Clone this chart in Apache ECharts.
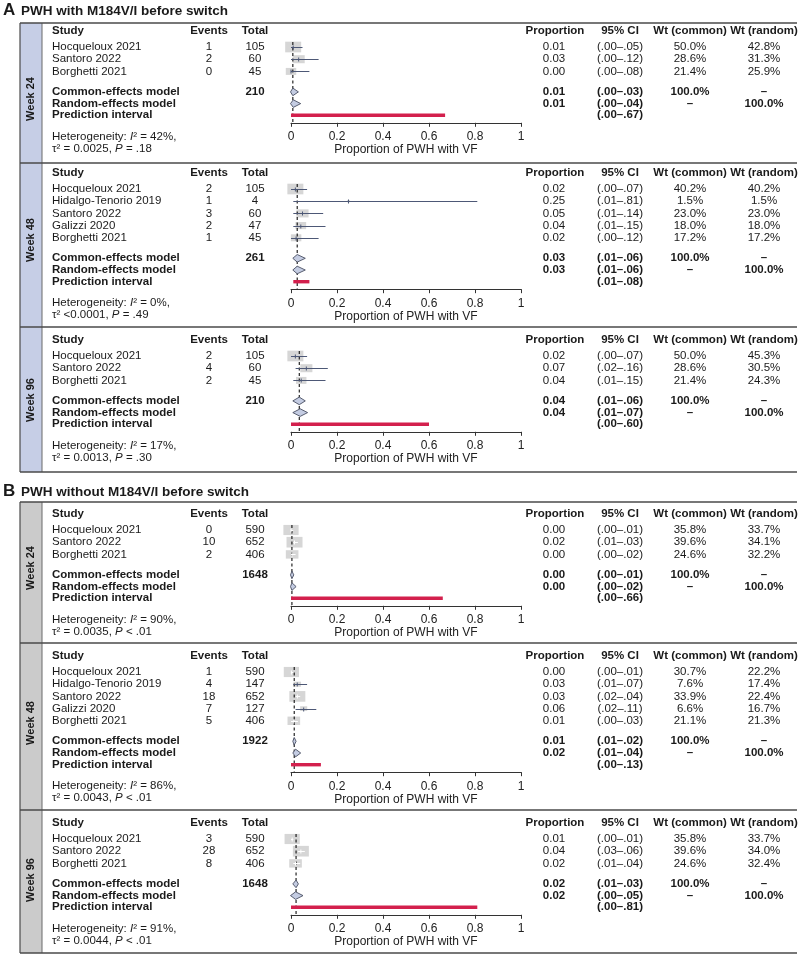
<!DOCTYPE html>
<html><head><meta charset="utf-8">
<script src="https://cdn.jsdelivr.net/npm/echarts@6/dist/echarts.min.js"></script>
<style>html,body{margin:0;padding:0;background:#fff}#c{width:800px;height:954px}</style>
</head><body><div id="c"></div>
<script>
// ---------- DATA ----------
// Panel A – Week 24
const aW24Study = ['Hocqueloux 2021', 'Santoro 2022', 'Borghetti 2021'];
const aW24Events = [1, 2, 0];
const aW24Total = [105, 60, 45];
const aW24Prop = [0.0095, 0.0333, 0.0];
const aW24Lo = [0.00, 0.00, 0.00];
const aW24Hi = [0.05, 0.12, 0.08];
const aW24WtCommon = [50.0, 28.6, 21.4];
const aW24WtRandom = [42.8, 31.3, 25.9];
const aW24Common = [0.008, 0.00, 0.03];
const aW24Random = [0.01, 0.00, 0.04];
const aW24Pred = [0.00, 0.67];
const aW24N = 210;
const aW24Het = ['42%', '= 0.0025', '= .18'];

// Panel A – Week 48
const aW48Study = ['Hocqueloux 2021', 'Hidalgo-Tenorio 2019', 'Santoro 2022', 'Galizzi 2020', 'Borghetti 2021'];
const aW48Events = [2, 1, 3, 2, 1];
const aW48Total = [105, 4, 60, 47, 45];
const aW48Prop = [0.019, 0.25, 0.05, 0.0426, 0.0222];
const aW48Lo = [0.00, 0.01, 0.01, 0.01, 0.00];
const aW48Hi = [0.07, 0.81, 0.14, 0.15, 0.12];
const aW48WtCommon = [40.2, 1.5, 23.0, 18.0, 17.2];
const aW48WtRandom = [40.2, 1.5, 23.0, 18.0, 17.2];
const aW48Common = [0.027, 0.01, 0.06];
const aW48Random = [0.027, 0.01, 0.06];
const aW48Pred = [0.01, 0.08];
const aW48N = 261;
const aW48Het = ['0%', '<0.0001', '= .49'];

// Panel A – Week 96
const aW96Study = ['Hocqueloux 2021', 'Santoro 2022', 'Borghetti 2021'];
const aW96Events = [2, 4, 2];
const aW96Total = [105, 60, 45];
const aW96Prop = [0.019, 0.0667, 0.0444];
const aW96Lo = [0.00, 0.02, 0.01];
const aW96Hi = [0.07, 0.16, 0.15];
const aW96WtCommon = [50.0, 28.6, 21.4];
const aW96WtRandom = [45.3, 30.5, 24.3];
const aW96Common = [0.036, 0.01, 0.06];
const aW96Random = [0.04, 0.01, 0.07];
const aW96Pred = [0.00, 0.60];
const aW96N = 210;
const aW96Het = ['17%', '= 0.0013', '= .30'];

// Panel B – Week 24
const bW24Study = ['Hocqueloux 2021', 'Santoro 2022', 'Borghetti 2021'];
const bW24Events = [0, 10, 2];
const bW24Total = [590, 652, 406];
const bW24Prop = [0.0, 0.0153, 0.0049];
const bW24Lo = [0.00, 0.01, 0.00];
const bW24Hi = [0.01, 0.03, 0.02];
const bW24WtCommon = [35.8, 39.6, 24.6];
const bW24WtRandom = [33.7, 34.1, 32.2];
const bW24Common = [0.004, 0.00, 0.01];
const bW24Random = [0.004, 0.00, 0.02];
const bW24Pred = [0.00, 0.66];
const bW24N = 1648;
const bW24Het = ['90%', '= 0.0035', '< .01'];

// Panel B – Week 48
const bW48Study = ['Hocqueloux 2021', 'Hidalgo-Tenorio 2019', 'Santoro 2022', 'Galizzi 2020', 'Borghetti 2021'];
const bW48Events = [1, 4, 18, 7, 5];
const bW48Total = [590, 147, 652, 127, 406];
const bW48Prop = [0.0017, 0.0272, 0.0276, 0.0551, 0.0123];
const bW48Lo = [0.00, 0.01, 0.02, 0.02, 0.00];
const bW48Hi = [0.01, 0.07, 0.04, 0.11, 0.03];
const bW48WtCommon = [30.7, 7.6, 33.9, 6.6, 21.1];
const bW48WtRandom = [22.2, 17.4, 22.4, 16.7, 21.3];
const bW48Common = [0.014, 0.01, 0.02];
const bW48Random = [0.02, 0.01, 0.04];
const bW48Pred = [0.00, 0.13];
const bW48N = 1922;
const bW48Het = ['86%', '= 0.0043', '< .01'];

// Panel B – Week 96
const bW96Study = ['Hocqueloux 2021', 'Santoro 2022', 'Borghetti 2021'];
const bW96Events = [3, 28, 8];
const bW96Total = [590, 652, 406];
const bW96Prop = [0.0051, 0.0429, 0.0197];
const bW96Lo = [0.00, 0.03, 0.01];
const bW96Hi = [0.01, 0.06, 0.04];
const bW96WtCommon = [35.8, 39.6, 24.6];
const bW96WtRandom = [33.7, 34.0, 32.4];
const bW96Common = [0.022, 0.01, 0.03];
const bW96Random = [0.02, 0.00, 0.05];
const bW96Pred = [0.00, 0.81];
const bW96N = 1648;
const bW96Het = ['91%', '= 0.0044', '< .01'];

const axisTicks = [0, 0.2, 0.4, 0.6, 0.8, 1];
const panelTitles = ['PWH with M184V/I before switch', 'PWH without M184V/I before switch'];
const panelLetters = ['A', 'B'];
const weekLabels = ['Week 24', 'Week 48', 'Week 96'];
const headers = ['Study', 'Events', 'Total', 'Proportion', '95% CI', 'Wt (common)', 'Wt (random)'];
const axisTitle = 'Proportion of PWH with VF';

// ---------- LAYOUT ----------
const sections = [
  {panel:0, week:0, study:aW24Study, events:aW24Events, total:aW24Total, prop:aW24Prop, lo:aW24Lo, hi:aW24Hi, wc:aW24WtCommon, wr:aW24WtRandom, common:aW24Common, random:aW24Random, pred:aW24Pred, n:aW24N, het:aW24Het},
  {panel:0, week:1, study:aW48Study, events:aW48Events, total:aW48Total, prop:aW48Prop, lo:aW48Lo, hi:aW48Hi, wc:aW48WtCommon, wr:aW48WtRandom, common:aW48Common, random:aW48Random, pred:aW48Pred, n:aW48N, het:aW48Het},
  {panel:0, week:2, study:aW96Study, events:aW96Events, total:aW96Total, prop:aW96Prop, lo:aW96Lo, hi:aW96Hi, wc:aW96WtCommon, wr:aW96WtRandom, common:aW96Common, random:aW96Random, pred:aW96Pred, n:aW96N, het:aW96Het},
  {panel:1, week:0, study:bW24Study, events:bW24Events, total:bW24Total, prop:bW24Prop, lo:bW24Lo, hi:bW24Hi, wc:bW24WtCommon, wr:bW24WtRandom, common:bW24Common, random:bW24Random, pred:bW24Pred, n:bW24N, het:bW24Het},
  {panel:1, week:1, study:bW48Study, events:bW48Events, total:bW48Total, prop:bW48Prop, lo:bW48Lo, hi:bW48Hi, wc:bW48WtCommon, wr:bW48WtRandom, common:bW48Common, random:bW48Random, pred:bW48Pred, n:bW48N, het:bW48Het},
  {panel:1, week:2, study:bW96Study, events:bW96Events, total:bW96Total, prop:bW96Prop, lo:bW96Lo, hi:bW96Hi, wc:bW96WtCommon, wr:bW96WtRandom, common:bW96Common, random:bW96Random, pred:bW96Pred, n:bW96N, het:bW96Het}
];
const layout = [
  {top:23, row0:47, bottom:163, weekY:99},
  {top:163, row0:189, bottom:327, weekY:240},
  {top:327, row0:356, bottom:472, weekY:400},
  {top:502, row0:530, bottom:643, weekY:568},
  {top:643, row0:672, bottom:810, weekY:723},
  {top:810, row0:839, bottom:953, weekY:880}
];
const panelBox = [{top:23, bottom:472, titleY:10, strip:'#c6cee6'}, {top:502, bottom:953, titleY:491, strip:'#cbcbcb'}];
const COL = {study:52, events:209, total:255, prop:554, ci:620, wc:690, wr:764};
const FONT = '"Liberation Sans", Arial, Helvetica, sans-serif';
const FS = 11.5;
const TXT = '#1a1a1a';
const STEP = 12.2;

function txt(x, y, s, o) {
  o = o || {};
  const style = {text: s, fontFamily: FONT, fontSize: o.size || FS, fontWeight: o.bold ? 'bold' : 'normal',
    fill: TXT, align: o.align || 'left', verticalAlign: 'middle'};
  if (o.rich) style.rich = o.rich;
  return {type: 'text', x: x, y: y, rotation: o.rot || 0, silent: true, z: 10, style: style};
}
const f2 = v => v.toFixed(2);
const ciTxt = (lo, hi) => '(' + lo.toFixed(2).replace(/^0/, '') + '–' + hi.toFixed(2).replace(/^0/, '') + ')';
const pct = v => v.toFixed(1) + '%';

const grids = [], xAxes = [], yAxes = [], series = [], graphics = [];

// panel frames
panelBox.forEach((p, i) => {
  graphics.push({type:'rect', shape:{x:20, y:p.top, width:22, height:p.bottom - p.top}, style:{fill:p.strip}, z:1, silent:true});
  graphics.push({type:'line', shape:{x1:20, y1:p.top, x2:20, y2:p.bottom}, style:{stroke:'#4a4a4a', lineWidth:1.2}, z:2, silent:true});
  graphics.push({type:'line', shape:{x1:42, y1:p.top, x2:42, y2:p.bottom}, style:{stroke:'#6a6a6a', lineWidth:1}, z:2, silent:true});
  graphics.push({type:'line', shape:{x1:20, y1:p.bottom, x2:797, y2:p.bottom}, style:{stroke:'#4a4a4a', lineWidth:1.3}, z:2, silent:true});
  graphics.push(txt(3, p.titleY, panelLetters[i], {bold:true, size:17}));
  graphics.push(txt(21, p.titleY + 1, panelTitles[i], {bold:true, size:13.5}));
});

sections.forEach((s, k) => {
  const L = layout[k];
  const nS = s.study.length;
  const yStudy = s.study.map((_, i) => i * STEP);
  const yC = (nS - 1) * STEP + 20.5, yR = yC + 11.7, yP = yC + 23.4, yAx = yP + 7.5;
  const toPx = v => L.row0 + v;

  grids.push({left: 291, width: 230, top: L.row0 - 8, height: yAx + 8, containLabel: false});
  xAxes.push({gridIndex: k, type: 'value', min: 0, max: 1, interval: 0.2, position: 'bottom',
    axisLine: {show: true, onZero: false, lineStyle: {color: '#333', width: 1}},
    axisTick: {show: true, inside: false, length: 4, lineStyle: {color: '#333'}},
    axisLabel: {fontSize: 12, color: '#222', margin: 8, fontFamily: FONT,
      formatter: v => axisTicks.indexOf(Math.round(v * 10) / 10) >= 0 ? String(Math.round(v * 10) / 10) : ''},
    splitLine: {show: false},
    name: axisTitle, nameLocation: 'middle', nameGap: 21,
    nameTextStyle: {fontSize: 12, color: '#222', fontFamily: FONT}});
  yAxes.push({gridIndex: k, type: 'value', min: -8, max: yAx, inverse: true, show: false});

  const wmax = Math.max.apply(null, s.wc);
  const studyData = s.prop.map((p, i) => [p, s.lo[i], s.hi[i], yStudy[i], s.wc[i], wmax]);

  // boxes
  series.push({type: 'custom', xAxisIndex: k, yAxisIndex: k, z: 2, silent: true, clip: false,
    data: studyData,
    renderItem: (params, api) => {
      const pE = api.coord([api.value(0), api.value(3)]);
      const bw = 16 * Math.sqrt(api.value(4) / api.value(5)), bh = bw / 1.5;
      return {type: 'rect', shape: {x: pE[0] - bw / 2, y: pE[1] - bh / 2, width: bw, height: bh}, style: {fill: '#d6d6d6'}};
    }});
  // reference dashed line at common estimate
  series.push({type: 'custom', xAxisIndex: k, yAxisIndex: k, z: 3, silent: true, clip: false,
    data: [[s.common[0], -5, yAx]],
    renderItem: (params, api) => {
      const a = api.coord([api.value(0), api.value(1)]), b = api.coord([api.value(0), api.value(2)]);
      return {type: 'line', shape: {x1: a[0], y1: a[1], x2: b[0], y2: b[1]}, style: {stroke: '#111', lineWidth: 1.1, lineDash: [3, 2.5]}};
    }});
  // CI lines + estimate tick
  series.push({type: 'custom', xAxisIndex: k, yAxisIndex: k, z: 4, silent: true, clip: false,
    data: studyData,
    renderItem: (params, api) => {
      const y = api.value(3);
      const pE = api.coord([api.value(0), y]), pL = api.coord([api.value(1), y]), pH = api.coord([api.value(2), y]);
      const bw = 16 * Math.sqrt(api.value(4) / api.value(5));
      const inside = pL[0] >= pE[0] - bw / 2 && pH[0] <= pE[0] + bw / 2;
      const c = inside ? '#ffffff' : '#4d5876';
      const yy = Math.round(pE[1]) + 0.5;
      return {type: 'group', children: [
        {type: 'line', shape: {x1: pL[0], y1: yy, x2: pH[0], y2: yy}, style: {stroke: c, lineWidth: 1}},
        {type: 'line', shape: {x1: pE[0], y1: yy - 2, x2: pE[0], y2: yy + 2}, style: {stroke: c, lineWidth: 1}}
      ]};
    }});
  // diamonds (common, random)
  series.push({type: 'custom', xAxisIndex: k, yAxisIndex: k, z: 5, silent: true, clip: false,
    data: [[s.common[0], s.common[1], s.common[2], yC], [s.random[0], s.random[1], s.random[2], yR]],
    renderItem: (params, api) => {
      const y = api.value(3);
      const pE = api.coord([api.value(0), y]), pL = api.coord([api.value(1), y]), pH = api.coord([api.value(2), y]);
      const h = 3.8;
      return {type: 'polygon', shape: {points: [[pL[0] - 0.5, pE[1]], [pE[0], pE[1] - h], [pH[0] + 0.5, pE[1]], [pE[0], pE[1] + h]]},
        style: {fill: '#c4cce2', stroke: '#4a4f62', lineWidth: 0.9}};
    }});
  // prediction interval
  series.push({type: 'custom', xAxisIndex: k, yAxisIndex: k, z: 5, silent: true, clip: false,
    data: [[s.pred[0], s.pred[1], yP]],
    renderItem: (params, api) => {
      const a = api.coord([api.value(0), api.value(2)]), b = api.coord([api.value(1), api.value(2)]);
      return {type: 'line', shape: {x1: a[0], y1: a[1], x2: b[0], y2: b[1]}, style: {stroke: '#d3204d', lineWidth: 3.4}};
    }});

  // section separator (top)
  graphics.push({type:'line', shape:{x1:20, y1:L.top, x2:797, y2:L.top}, style:{stroke:'#4a4a4a', lineWidth:1.3}, z:2, silent:true});
  // week label
  graphics.push(txt(31, L.weekY, weekLabels[s.week], {bold:true, size:11, align:'center', rot:Math.PI / 2}));
  // headers
  const hy = L.row0 - 16;
  graphics.push(txt(COL.study, hy, headers[0], {bold:true}));
  graphics.push(txt(COL.events, hy, headers[1], {bold:true, align:'center'}));
  graphics.push(txt(COL.total, hy, headers[2], {bold:true, align:'center'}));
  graphics.push(txt(COL.prop + 1, hy, headers[3], {bold:true, align:'center'}));
  graphics.push(txt(COL.ci, hy, headers[4], {bold:true, align:'center'}));
  graphics.push(txt(COL.wc, hy, headers[5], {bold:true, align:'center'}));
  graphics.push(txt(COL.wr, hy, headers[6], {bold:true, align:'center'}));
  // study rows
  s.study.forEach((name, i) => {
    const y = toPx(yStudy[i]);
    graphics.push(txt(COL.study, y, name));
    graphics.push(txt(COL.events, y, String(s.events[i]), {align:'center'}));
    graphics.push(txt(COL.total, y, String(s.total[i]), {align:'center'}));
    graphics.push(txt(COL.prop, y, f2(s.prop[i]), {align:'center'}));
    graphics.push(txt(COL.ci, y, ciTxt(s.lo[i], s.hi[i]), {align:'center'}));
    graphics.push(txt(COL.wc, y, pct(s.wc[i]), {align:'center'}));
    graphics.push(txt(COL.wr, y, pct(s.wr[i]), {align:'center'}));
  });
  // summary rows
  const cy = toPx(yC), ry = toPx(yR), py = toPx(yP);
  graphics.push(txt(COL.study, cy, 'Common-effects model', {bold:true}));
  graphics.push(txt(COL.total, cy, String(s.n), {bold:true, align:'center'}));
  graphics.push(txt(COL.prop, cy, f2(s.common[0]), {bold:true, align:'center'}));
  graphics.push(txt(COL.ci, cy, ciTxt(s.common[1], s.common[2]), {bold:true, align:'center'}));
  graphics.push(txt(COL.wc, cy, '100.0%', {bold:true, align:'center'}));
  graphics.push(txt(COL.wr, cy, '–', {bold:true, align:'center'}));
  graphics.push(txt(COL.study, ry, 'Random-effects model', {bold:true}));
  graphics.push(txt(COL.prop, ry, f2(s.random[0]), {bold:true, align:'center'}));
  graphics.push(txt(COL.ci, ry, ciTxt(s.random[1], s.random[2]), {bold:true, align:'center'}));
  graphics.push(txt(COL.wc, ry, '–', {bold:true, align:'center'}));
  graphics.push(txt(COL.wr, ry, '100.0%', {bold:true, align:'center'}));
  graphics.push(txt(COL.study, py, 'Prediction interval', {bold:true}));
  graphics.push(txt(COL.ci, py, ciTxt(s.pred[0], s.pred[1]), {bold:true, align:'center'}));
  // heterogeneity
  const rich = {it: {fontStyle: 'italic', fontFamily: FONT, fontSize: FS, fill: TXT}};
  graphics.push(txt(COL.study, toPx(yAx) + 14, 'Heterogeneity: {it|I}² = ' + s.het[0] + ',', {rich: rich}));
  graphics.push(txt(COL.study, toPx(yAx) + 26, 'τ² ' + s.het[1] + ', {it|P} ' + s.het[2], {rich: rich}));
});

const chart = echarts.init(document.getElementById('c'), null, {renderer: 'canvas', width: 800, height: 954});
chart.setOption({
  animation: false,
  backgroundColor: '#ffffff',
  textStyle: {fontFamily: FONT},
  grid: grids, xAxis: xAxes, yAxis: yAxes, series: series,
  graphic: {elements: graphics}
});
</script></body></html>
